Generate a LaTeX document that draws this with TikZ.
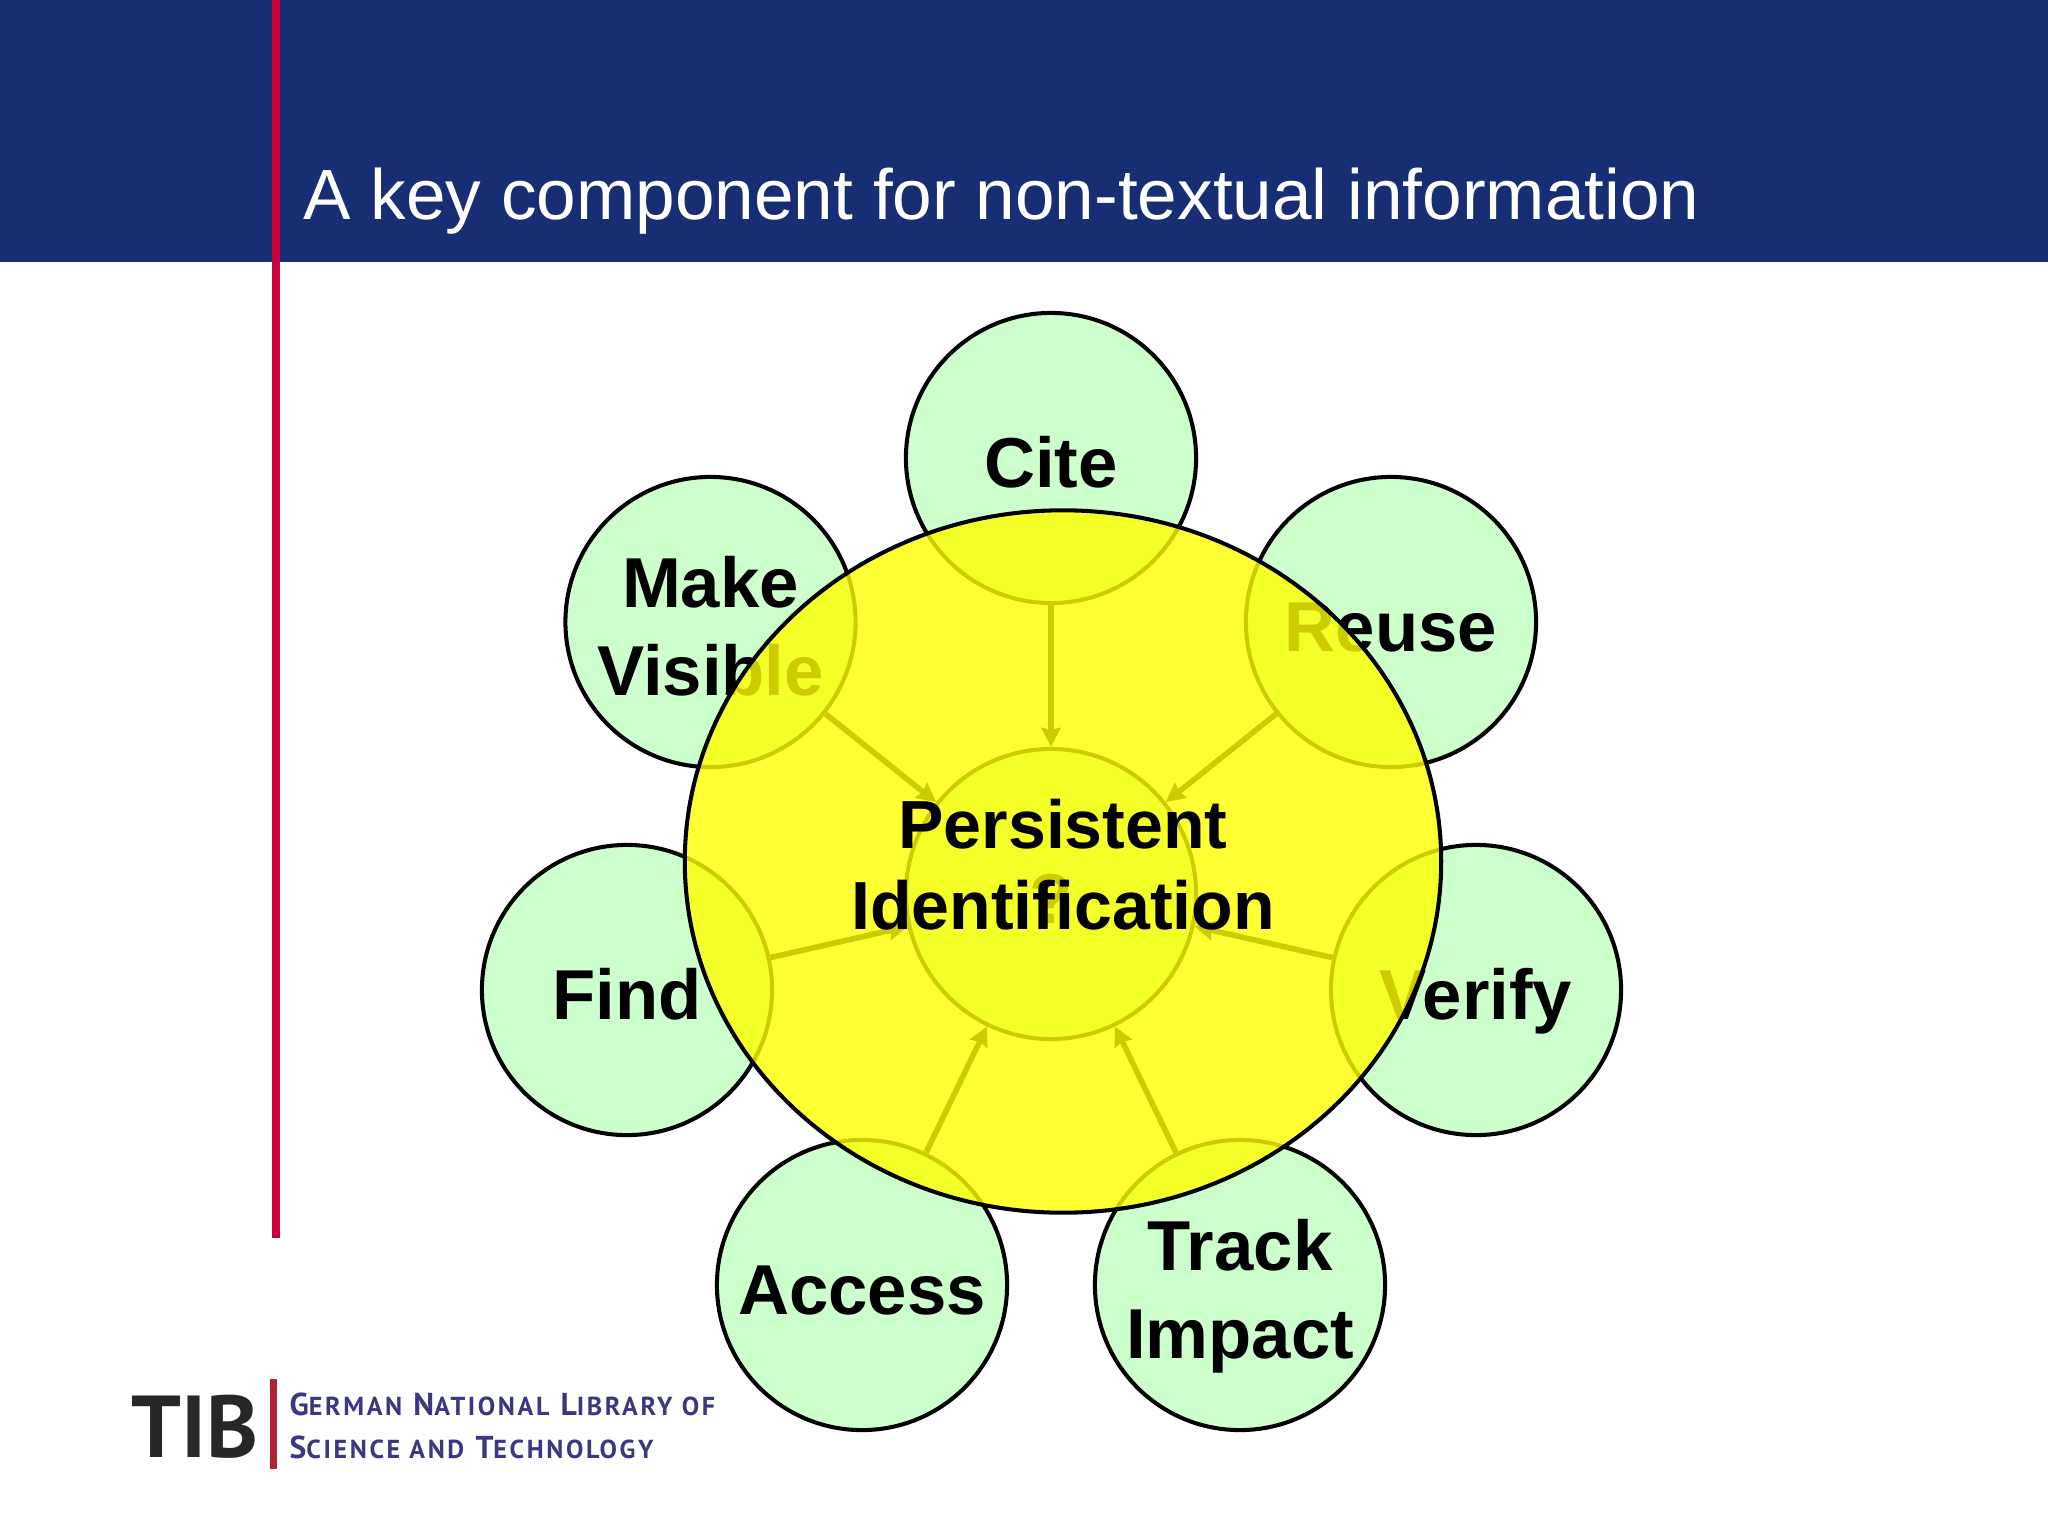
\documentclass[tikz,border=0pt]{standalone}
\usepackage{fontspec}
\setmainfont{Liberation Sans}
\newfontfamily\tibfont[LetterSpace=10]{PT Sans}
\newfontfamily\tiblogo{PT Sans}
\usetikzlibrary{arrows.meta,shapes.geometric}
\definecolor{bandblue}{RGB}{23,45,116}
\definecolor{barred}{RGB}{204,0,60}
\definecolor{petalgreen}{RGB}{204,255,204}
\definecolor{lensyellow}{RGB}{255,255,0}
\definecolor{tibgrey}{RGB}{40,38,40}
\definecolor{tibred}{RGB}{178,34,52}
\definecolor{tibblue}{RGB}{60,55,130}
\newcommand{\capsize}{\fontsize{9.0}{10}\selectfont}
\newcommand{\lowsize}{\fontsize{7.4}{10}\selectfont}
\tikzset{
  petaltext/.style={inner sep=0pt,align=center,text height=0.5cm,text depth=0pt,yshift=-0.045cm,
    font=\fontsize{20.1}{24.9}\selectfont\bfseries},
  petal/.style={circle,draw=black,line width=1.15pt,fill=petalgreen,inner sep=0pt,
    minimum size=2.9cm,label={[petaltext]center:#1}},
  tallpetal/.style={circle,draw=black,line width=1.15pt,fill=petalgreen,inner sep=0pt,
    minimum size=2.9cm,label={[petaltext,text height=1.37cm]center:#1}},
  lens/.style={ellipse,draw=black,line width=1.15pt,fill=lensyellow,fill opacity=0.8,
    inner sep=0pt,minimum width=7.56cm,minimum height=7.02cm},
  lenstext/.style={inner sep=0pt,align=center,yshift=-0.03cm,
    font=\fontsize{19.36}{23.2}\selectfont\bfseries},
  tibline/.style={anchor=base west,inner sep=0pt,text=tibblue,font=\tibfont\bfseries\capsize}
}
\begin{document}
\begin{tikzpicture}[x=0.01cm,y=-0.01cm]
  \useasboundingbox (0,0) rectangle (2048,1536);
  \fill[bandblue] (0,0) rectangle (2048,262);
  \fill[barred] (272,0) rectangle (280,1238);
  \node[anchor=base west,inner sep=0pt,text=white,font=\fontsize{20.23}{24}\selectfont] (title) at (303,219)
    {A key component for non-textual information};
  \draw
    (1051,894) node[petal={?}] (hub){}
    (1051,458) node[petal=Cite] (cite){}
    (1391,622) node[petal=Reuse] (reuse){}
    (1476,990) node[petal=Verify] (verify){}
    (1240,1285) node[tallpetal={Track\\Impact}] (track){}
    (862,1285) node[petal=Access] (access){}
    (627,990) node[petal=Find] (find){}
    (710.5,622) node[tallpetal={Make\\Visible}] (visible){};
  \begin{scope}[line width=1.6pt,-{Stealth[length=0.19cm,width=0.19cm,inset=0.02cm]}]
    \draw (cite) to (hub);
    \draw (reuse) to (hub);
    \draw (verify) to (hub);
    \draw (track) to (hub);
    \draw (access) to (hub);
    \draw (find) to (hub);
    \draw (visible) to (hub);
  \end{scope}
  \node[lens,label={[lenstext]center:Persistent\\Identification}] (pid) at (1063,861.5) {};
  % logo
  \node[anchor=base west,inner sep=0pt,text=tibgrey,font=\tiblogo\bfseries\fontsize{25}{30}\selectfont] (tib) at (131,1457) {TIB};
  \fill[tibred] (270,1379) rectangle (277,1469);
  \node[tibline] (library) at (289,1415) {G{\lowsize ERMAN} N{\lowsize ATIONAL} L{\lowsize IBRARY OF}};
  \node[tibline] (science) at (289,1458) {S{\lowsize CIENCE AND} T{\lowsize ECHNOLOGY}};
\end{tikzpicture}
\end{document}
